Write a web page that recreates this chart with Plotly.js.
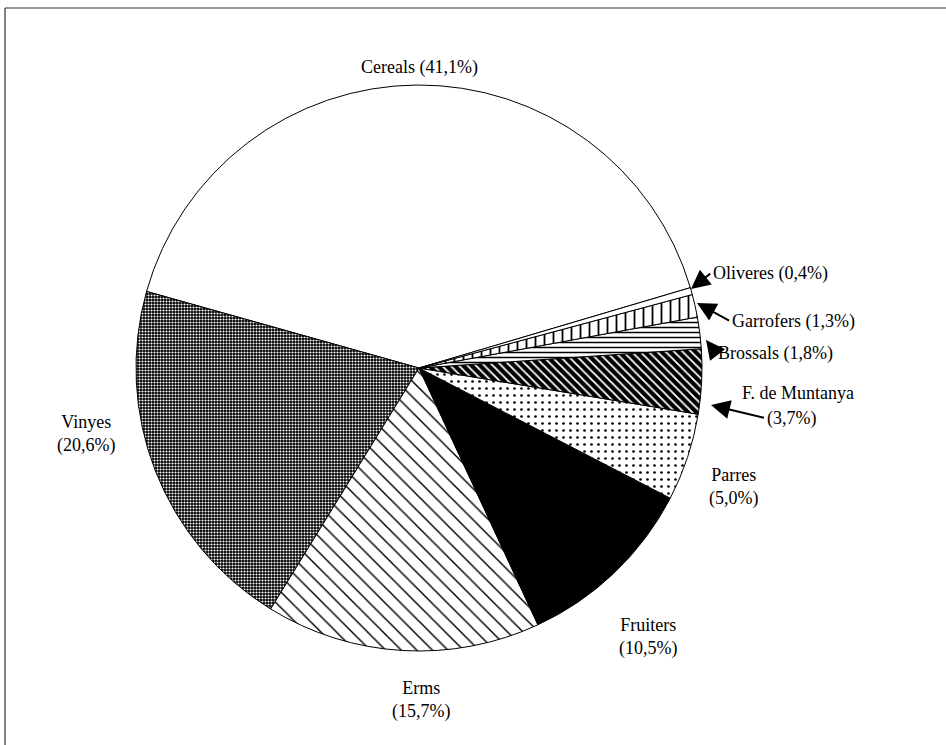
<!DOCTYPE html>
<html>
<head>
<meta charset="utf-8">
<script src="https://cdn.plot.ly/plotly-3.0.1.min.js"></script>
<style>html,body{margin:0;padding:0;background:#fff;}#chart{width:946px;height:745px;}</style>
</head>
<body>
<div id="chart"></div>
<script>
// ---- data ----
var categories = ["Cereals", "Vinyes", "Erms", "Fruiters", "Parres", "F. de Muntanya", "Brossals", "Garrofers", "Oliveres"];
var values = [41.1, 20.6, 15.7, 10.5, 5.0, 3.7, 1.8, 1.3, 0.4];
var percentLabels = ["41,1%", "20,6%", "15,7%", "10,5%", "5,0%", "3,7%", "1,8%", "1,3%", "0,4%"];

// ---- styles ----
var W = 946, H = 745;
var patShapes = ["", ".", "\\", "", ".", "\\", "-", "|", ""];
var patFg = ["#000", "#fff", "#000", "#000", "#000", "#fff", "#000", "#000", "#000"];
var patBg = ["#fff", "#000", "#fff", "#000", "#fff", "#000", "#fff", "#fff", "#fff"];
var patSize = [8, 3, 11, 8, 7, 6, 5, 9, 8];
var patSolid = [0.3, 0.4, 0.13, 0.3, 0.12, 0.3, 0.3, 0.2, 0.3];

function px(x){ return x / W; }
function py(y){ return 1 - y / H; }

var cx = 419, cy = 368, r = 283;

var trace = {
  type: "pie",
  labels: categories,
  values: values,
  sort: false,
  direction: "counterclockwise",
  rotation: -74.3,
  textinfo: "none",
  hoverinfo: "label+value",
  showlegend: false,
  domain: { x: [px(cx - r), px(cx + r)], y: [py(cy + r), py(cy - r)] },
  marker: {
    colors: patBg,
    line: { color: "#000", width: 1 },
    pattern: { shape: patShapes, fgcolor: patFg, bgcolor: patBg, size: patSize, solidity: patSolid, fillmode: "replace" }
  }
};

var font = { family: "Liberation Serif, Times New Roman, serif", size: 18, color: "#000" };

function lab(i){ return categories[i] + " (" + percentLabels[i] + ")"; }
function lab2(i){ return categories[i] + "<br>(" + percentLabels[i] + ")"; }

var annotations = [
  { text: lab(0), x: px(419), y: py(67), showarrow: false },
  { text: lab2(1), x: px(86), y: py(434), showarrow: false },
  { text: lab2(2), x: px(421), y: py(700), showarrow: false },
  { text: lab2(3), x: px(648), y: py(637), showarrow: false },
  { text: lab2(4), x: px(733), y: py(487), showarrow: false },
  { text: categories[5], x: px(798), y: py(393), showarrow: false },
  { text: "(" + percentLabels[5] + ")", x: px(711), y: py(405), ax: 765, ay: 418, xanchor: "left", showarrow: true },
  { text: lab(6), x: px(706), y: py(340), ax: 716, ay: 353, xanchor: "left", showarrow: true },
  { text: lab(7), x: px(697), y: py(303), ax: 730, ay: 321, xanchor: "left", showarrow: true },
  { text: lab(8), x: px(691), y: py(289), ax: 711, ay: 273, xanchor: "left", showarrow: true }
];
annotations.forEach(function(a){
  a.xref = "paper"; a.yref = "paper"; a.font = font;
  if (!a.xanchor) a.xanchor = "center";
  a.yanchor = "middle";
  a.align = "center";
  if (a.showarrow) {
    // convert absolute pixel tail position into offsets
    a.ax = a.ax - a.x * W; a.ay = a.ay - (1 - a.y) * H;
    a.arrowhead = 2; a.arrowsize = 1.9; a.arrowwidth = 2; a.arrowcolor = "#000";
    a.standoff = 0; a.startstandoff = 1;
  }
});

var layout = {
  width: W, height: H,
  margin: { l: 0, r: 0, t: 0, b: 0 },
  paper_bgcolor: "#fff",
  font: font,
  annotations: annotations,
  shapes: [
    { type: "line", xref: "paper", yref: "paper", x0: px(5), x1: 1, y0: py(8), y1: py(8), line: { color: "#333", width: 1.2 } },
    { type: "line", xref: "paper", yref: "paper", x0: px(5), x1: px(5), y0: py(8), y1: 0, line: { color: "#333", width: 1.2 } }
  ]
};

Plotly.newPlot("chart", [trace], layout, { staticPlot: true });
</script>
</body>
</html>
